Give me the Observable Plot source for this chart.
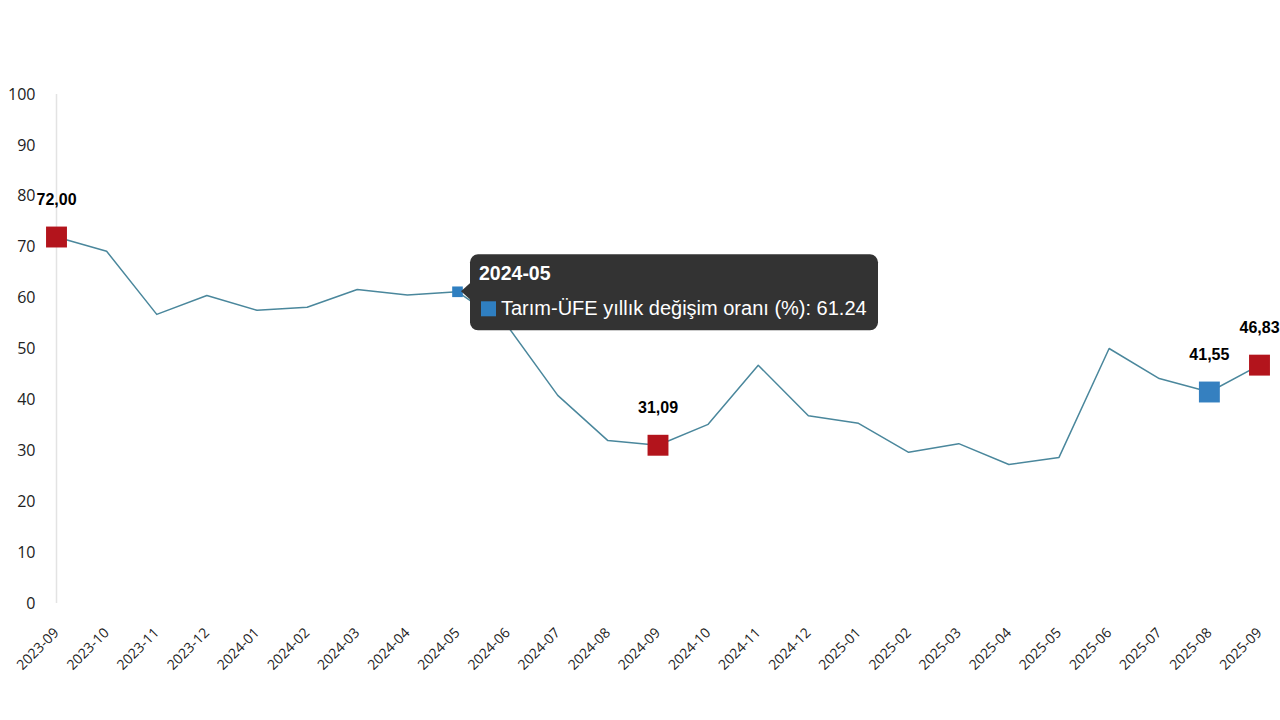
<!DOCTYPE html>
<html><head><meta charset="utf-8">
<script src="https://cdn.jsdelivr.net/npm/d3@7"></script>
<script src="https://cdn.jsdelivr.net/npm/@observablehq/plot@0.6"></script>
<style>
body{margin:0;background:#fff;}
#chart svg{display:block;overflow:visible;}
</style>
</head><body><div id="chart"></div>
<script>
const months = ["2023-09","2023-10","2023-11","2023-12","2024-01","2024-02","2024-03","2024-04","2024-05","2024-06","2024-07","2024-08","2024-09","2024-10","2024-11","2024-12","2025-01","2025-02","2025-03","2025-04","2025-05","2025-06","2025-07","2025-08","2025-09"];
const values = [72.00,69.2,56.8,60.5,57.6,58.2,61.7,60.6,61.24,54.5,40.9,32.0,31.09,35.2,46.8,36.9,35.4,29.7,31.4,27.3,28.7,50.1,44.2,41.55,46.83];
const redMonths = ["2023-09","2024-09","2025-09"];
const blueMonths = ["2025-08"];
const tipMonth = "2024-05";
const seriesName = "Tarım-ÜFE yıllık değişim oranı (%)";
const yTicks = [0,10,20,30,40,50,60,70,80,90,100];

const data = months.map((m,i)=>({month:m, value:values[i]}));
const labelled = data.filter(d => redMonths.includes(d.month) || blueMonths.includes(d.month));
const fmt = v => v.toFixed(2).replace(".", ",");

function tooltipMark(index, scales) {
  const d = data.find(d => d.month === tipMonth);
  const px = scales.x(d.month), py = scales.y(d.value);
  const g = d3.create("svg:g").attr("text-anchor", "start");
  const bx = px + 13, by = py - 37, bw = 408, bh = 76;
  g.append("path").attr("d", `M${bx+1},${py-9} L${px+4},${py} L${bx+1},${py+9} Z`).attr("fill", "#333");
  g.append("rect").attr("x", bx).attr("y", by).attr("width", bw).attr("height", bh).attr("rx", 8).attr("fill", "#333");
  g.append("text").attr("x", bx + 9).attr("y", by + 26).attr("fill", "#fff").attr("text-anchor", "start")
    .attr("font-family", "Liberation Sans, Arial, sans-serif").attr("font-size", 19.5).attr("font-weight", "bold").text(d.month);
  g.append("rect").attr("x", bx + 11).attr("y", by + 47).attr("width", 15).attr("height", 15).attr("fill", "#2f7fc1");
  g.append("text").attr("x", bx + 31).attr("y", by + 61).attr("fill", "#fff").attr("text-anchor", "start")
    .attr("font-family", "Liberation Sans, Arial, sans-serif").attr("font-size", 20).text(`${seriesName}: ${d.value.toFixed(2)}`);
  return g.node();
}

const chart = Plot.plot({
  width: 1280, height: 720,
  marginLeft: 56, marginRight: 21, marginTop: 94, marginBottom: 117,
  style: {fontFamily: "Open Sans, sans-serif", background: "#fff", overflow: "visible"},
  x: {type: "point", domain: months, padding: 0, round: false},
  y: {domain: [0, 100]},
  marks: [
    Plot.ruleY([0], {x1: months[0], x2: months[months.length-1], stroke: "#e3e3e3", strokeWidth: 1.5}),
    Plot.ruleX([months[0]], {y1: 0, y2: 100, stroke: "#e3e3e3", strokeWidth: 1.5}),
    Plot.axisY({ticks: yTicks, tickSize: 0, tickPadding: 21, fontSize: 16, fill: "#222", label: null}),
    Plot.axisX({tickSize: 0, tickPadding: 27, tickRotate: -45, fontSize: 14, fill: "#222", label: null}),
    Plot.line(data, {x: "month", y: "value", stroke: "#4a879c", strokeWidth: 1.5}),
    Plot.dot(data.filter(d => d.month === tipMonth), {x: "month", y: "value", symbol: "square", r: 6, fill: "#2f7fc1", stroke: "none"}),
    tooltipMark,
    Plot.dot(data.filter(d => redMonths.includes(d.month)), {x: "month", y: "value", symbol: "square", r: 11.8, fill: "#b3141c", stroke: "none"}),
    Plot.dot(data.filter(d => blueMonths.includes(d.month)), {x: "month", y: "value", symbol: "square", r: 11.8, fill: "#3580c0", stroke: "none"}),
    Plot.text(labelled, {x: "month", y: "value", text: d => fmt(d.value), dy: -37, fontSize: 16, fontWeight: "bold", fill: "#000", fontFamily: "Liberation Sans, Arial, sans-serif"})
  ]
});
document.getElementById("chart").append(chart);
</script>
</body></html>
